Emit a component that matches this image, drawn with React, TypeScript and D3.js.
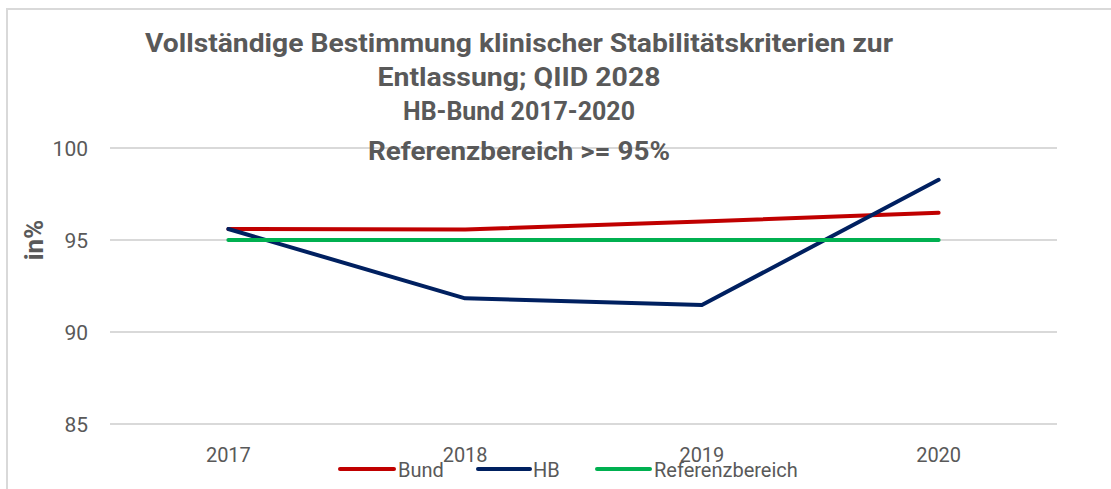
import React from "react";
import * as d3 from "d3";

const years = ["2017", "2018", "2019", "2020"];
const bund = [95.6, 95.57, 96.0, 96.48];
const hb = [95.6, 91.83, 91.47, 98.27];
const referenz = [95, 95, 95, 95];
const yTicks = [85, 90, 95, 100];
const titleLines = [
  "Vollständige Bestimmung klinischer Stabilitätskriterien zur",
  "Entlassung; QIID 2028",
  "HB-Bund 2017-2020",
  "Referenzbereich >= 95%",
];
const titleWidths = [748, 283, 232, 302];

const series = [
  { name: "Bund", values: bund, color: "#C00000" },
  { name: "HB", values: hb, color: "#002060" },
  { name: "Referenzbereich", values: referenz, color: "#00B050" },
];

export default function App() {
  const W = 1111, H = 489;
  const left = 110, right = 1057;
  const x = d3.scaleBand<string>().domain(years).range([left, right]);
  const y = d3.scaleLinear().domain([85, 100]).range([424, 148]);
  const cx = (d: string) => (x(d) as number) + x.bandwidth() / 2;
  const line = d3
    .line<number>()
    .x((_, i) => cx(years[i]))
    .y((v) => y(v));
  const txt = "#595959";
  const font = "Roboto, 'Liberation Sans', sans-serif";
  const legendItems = [
    { x: 340, w: 54, tx: 398 },
    { x: 478, w: 52, tx: 533 },
    { x: 597, w: 53, tx: 654 },
  ];
  return (
    <svg
      width={W}
      height={H}
      style={{ position: "fixed", left: 0, top: 0, background: "#fff" }}
    >
      <rect x={0} y={0} width={W} height={H} fill="#fff" />
      <rect x={7} y={9} width={W + 20} height={H + 20} fill="none" stroke="#d9d9d9" strokeWidth={2} />
      {yTicks.map((t) => (
        <g key={t}>
          <line x1={left} x2={right} y1={y(t)} y2={y(t)} stroke="#d9d9d9" strokeWidth={2} />
          <text x={88} y={y(t)} dy="0.36em" textAnchor="end" fontFamily={font} fontSize={21} fill={txt}>
            {t}
          </text>
        </g>
      ))}
      {years.map((yr) => (
        <text key={yr} x={cx(yr)} y={462} textAnchor="middle" fontFamily={font} fontSize={20} fill={txt}>
          {yr}
        </text>
      ))}
      <text
        transform={`translate(43,${y(95)}) rotate(-90)`}
        textAnchor="middle"
        fontFamily={font}
        fontWeight="bold"
        fontSize={26}
        fill={txt}
      >
        in%
      </text>
      {series.map((s) => (
        <path
          key={s.name}
          d={line(s.values) || ""}
          fill="none"
          stroke={s.color}
          strokeWidth={4}
          strokeLinecap="round"
          strokeLinejoin="round"
        />
      ))}
      {titleLines.map((l, i) => (
        <text
          key={i}
          x={519}
          y={[52, 86, 120, 160][i]}
          textAnchor="middle"
          fontFamily={font}
          fontWeight="bold"
          fontSize={26}
          fill={txt}
          textLength={titleWidths[i]}
          lengthAdjust="spacingAndGlyphs"
        >
          {l}
        </text>
      ))}
      {series.map((s, i) => (
        <g key={s.name}>
          <line
            x1={legendItems[i].x}
            x2={legendItems[i].x + legendItems[i].w}
            y1={469}
            y2={469}
            stroke={s.color}
            strokeWidth={4}
            strokeLinecap="round"
          />
          <text x={legendItems[i].tx} y={477} fontFamily={font} fontSize={20} fill={txt}>
            {s.name}
          </text>
        </g>
      ))}
    </svg>
  );
}
